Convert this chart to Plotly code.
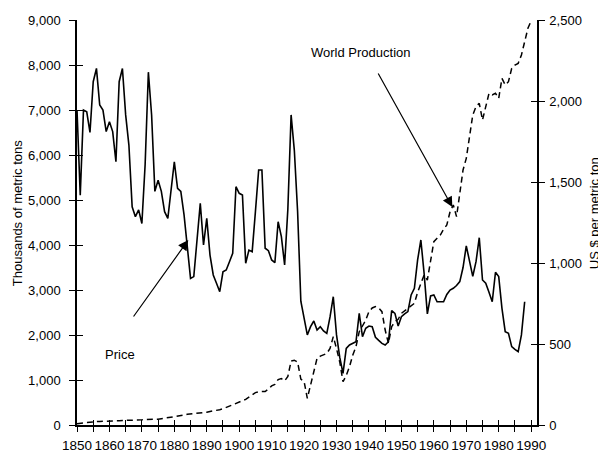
import plotly.graph_objects as go

FONT = "Liberation Sans, Arial, Helvetica, sans-serif"

price_years = list(range(1850, 1989))
price_usd = [
    1944, 1419, 1944, 1933, 1806, 2119, 2201, 1975, 1944, 1811,
    1872, 1811, 1625, 2119, 2201, 1914, 1728, 1347, 1286, 1328,
    1244, 1606, 2178, 1914, 1442, 1511, 1442, 1317, 1275, 1461,
    1625, 1461, 1442, 1297, 1092, 905, 916, 1139, 1368, 1111,
    1276, 1049, 926, 875, 823, 946, 957, 1008, 1060, 1471,
    1430, 1420, 998, 1080, 1070, 1317, 1574, 1574, 1091, 1076,
    1019, 1002, 1255, 1163, 988, 1333, 1914, 1694, 1319, 764,
    667, 556, 607, 642, 586, 607, 581, 566, 667, 792,
    556, 417, 319, 473, 494, 504, 514, 689, 545, 597,
    611, 607, 542, 522, 504, 494, 514, 706, 689, 611,
    669, 686, 700, 803, 844, 1019, 1142, 936, 686, 797,
    803, 761, 761, 761, 806, 833, 844, 861, 885, 972,
    1106, 1000, 917, 1008, 1156, 895, 875, 819, 761, 943,
    916, 720, 576, 566, 484, 467, 453, 556, 761,
]

prod_years = list(range(1850, 1991))
production_kt = [
    30, 40, 50, 60, 65, 70, 75, 80, 80, 85,
    90, 90, 95, 95, 100, 100, 100, 105, 110, 115,
    115, 120, 120, 125, 125, 130, 140, 150, 155, 165,
    180, 195, 210, 220, 240, 245, 250, 255, 265, 270,
    285, 300, 310, 320, 340, 360, 390, 420, 450, 480,
    500, 540, 570, 620, 670, 720, 740, 740, 745, 800,
    870, 900, 1010, 1030, 980, 1080, 1420, 1440, 1400, 1020,
    970, 593, 900, 1222, 1481, 1530, 1556, 1590, 1700, 1963,
    1700, 1400, 963, 1100, 1296, 1550, 1741, 2074, 2200, 2333,
    2519, 2600, 2630, 2600, 2519, 2111, 1815, 2185, 2296, 2350,
    2481, 2540, 2593, 2650, 2704, 2950, 3148, 3333, 3222, 3667,
    4074, 4150, 4222, 4350, 4444, 4741, 4889, 4630, 5111, 5667,
    5926, 6407, 6889, 7074, 7148, 6778, 7111, 7370, 7333, 7370,
    7259, 7704, 7556, 7630, 7926, 8000, 8037, 8222, 8519, 8815,
    8980,
]

fig = go.Figure()
fig.add_trace(go.Scatter(x=prod_years, y=production_kt, mode="lines",
                         line=dict(color="black", width=1.5, dash="6px,4px"),
                         name="World Production", yaxis="y", showlegend=False))
fig.add_trace(go.Scatter(x=price_years, y=price_usd, mode="lines",
                         line=dict(color="black", width=1.6),
                         name="Price", yaxis="y2", showlegend=False))
# empty helper traces so the inner-tick overlay axes are drawn
fig.add_trace(go.Scatter(x=[], y=[], xaxis="x3", yaxis="y3", showlegend=False, hoverinfo="skip"))
fig.add_trace(go.Scatter(x=[], y=[], xaxis="x3", yaxis="y4", showlegend=False, hoverinfo="skip"))

XR = [1850, 1991.8]
tickstyle = dict(tickcolor="black", tickwidth=1.2)
common = dict(showgrid=False, zeroline=False, automargin=False)

# page body adds an 8px offset, so the figure is 8px smaller than the window
fig.update_layout(
    width=598, height=449,
    margin=dict(l=69, r=69, t=12, b=32),
    paper_bgcolor="white", plot_bgcolor="white",
    font=dict(family=FONT, size=13, color="black"),
    xaxis=dict(range=XR, tick0=1850, dtick=10, ticks="outside", ticklen=5,
               showline=True, linecolor="black", linewidth=1.5,
               ticklabelstandoff=2, tickangle=0, tickfont=dict(size=13.5),
               minor=dict(tick0=1850, dtick=5, ticks="outside", ticklen=5,
                          showgrid=False, **tickstyle),
               **tickstyle, **common),
    xaxis3=dict(range=XR, overlaying="x", anchor="y3", side="bottom",
                tick0=1850, dtick=5, ticks="inside", ticklen=5,
                showticklabels=False, showline=False, **tickstyle, **common),
    yaxis=dict(range=[0, 9000], dtick=1000, tickformat=",", ticks="outside",
               ticklen=6, showline=True, linecolor="black", linewidth=1.5,
               ticklabelstandoff=6, **tickstyle, **common),
    yaxis3=dict(range=[0, 9000], dtick=1000, overlaying="y", anchor="x3", side="left",
                ticks="inside", ticklen=6, showticklabels=False, showline=False,
                **tickstyle, **common),
    yaxis2=dict(range=[0, 2500], dtick=500, tickformat=",", overlaying="y",
                side="right", anchor="x", ticks="outside", ticklen=6,
                showline=True, linecolor="black", linewidth=1.5,
                ticklabelstandoff=2, **tickstyle, **common),
    yaxis4=dict(range=[0, 2500], dtick=500, overlaying="y", side="right",
                anchor="x3", ticks="inside", ticklen=6, showticklabels=False,
                showline=False, **tickstyle, **common),
)

arrow = dict(showarrow=True, arrowhead=2, arrowsize=1.7, arrowwidth=1.2,
             arrowcolor="black", text="", xref="x", yref="y", axref="x", ayref="y")
fig.add_annotation(x=1965.7, y=4844, ax=1942.6, ay=7844, **arrow)
fig.add_annotation(x=1884.3, y=4111, ax=1867.1, ay=2378, **arrow)
fig.add_annotation(x=1937.4, y=8267, xref="x", yref="y", text="World Production",
                   showarrow=False, font=dict(size=13))
fig.add_annotation(x=1863.4, y=1556, xref="x", yref="y", text="Price",
                   showarrow=False, font=dict(size=13))
fig.add_annotation(x=-0.1304, y=0.523, xref="paper", yref="paper",
                   xanchor="center", yanchor="middle",
                   text="Thousands of metric tons", textangle=-90,
                   showarrow=False, font=dict(size=13))
fig.add_annotation(x=1.124, y=0.523, xref="paper", yref="paper",
                   xanchor="center", yanchor="middle",
                   text="US $ per metric ton", textangle=-90,
                   showarrow=False, font=dict(size=13))

fig.write_html("out.html")
